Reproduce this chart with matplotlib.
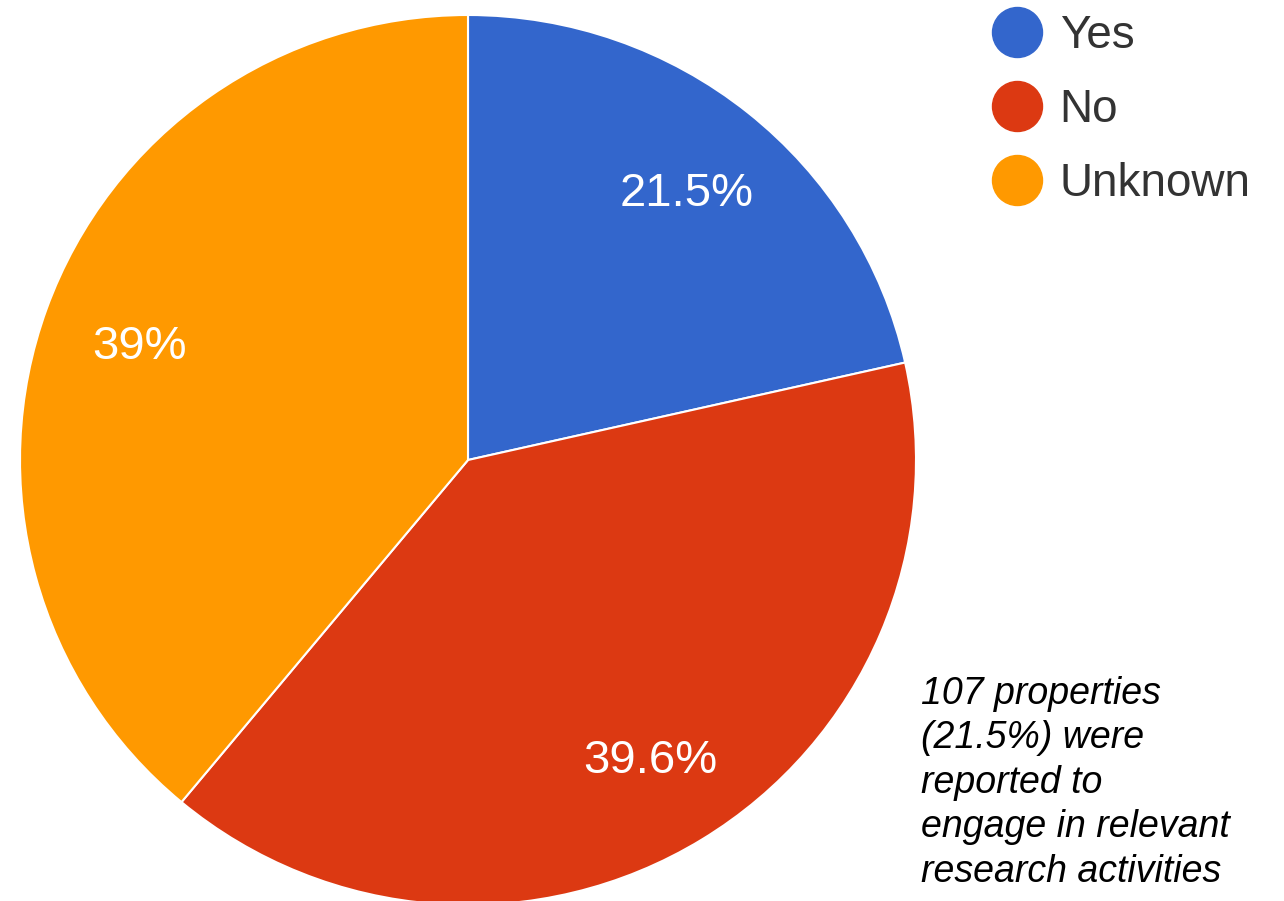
import matplotlib.pyplot as plt
from matplotlib.lines import Line2D

plt.rcParams['font.family'] = ['Liberation Sans', 'DejaVu Sans']

# survey answers (property counts)
categories = ['Yes', 'No', 'Unknown']
counts = [107, 197, 194]
colors = ['#3366CC', '#DC3912', '#FF9900']
note = '107 properties\n(21.5%) were\nreported to\nengage in relevant\nresearch activities'

W, H = 1284, 901
fig = plt.figure(figsize=(W / 100, H / 100), dpi=100)

# pie centre / radii in pixels (the source image is slightly stretched)
cx, cy, rx, ry = 468, 460, 448, 445
ax = fig.add_axes([(cx - rx) / W, (H - cy - ry) / H, 2 * rx / W, 2 * ry / H])


def fmt(p):
    s = '%.1f' % p
    if s.endswith('.0'):
        s = s[:-2]
    return s + '%'


wedges, texts, autotexts = ax.pie(counts, colors=colors, startangle=90,
                                  counterclock=False, autopct=fmt,
                                  pctdistance=0.78, radius=1,
                                  wedgeprops=dict(edgecolor='white', linewidth=1.5),
                                  textprops=dict(color='white', fontsize=34))
for t in autotexts:
    t.set_va('center_baseline')
ax.set_xlim(-1, 1)
ax.set_ylim(-1, 1)
ax.set_aspect('auto')
ax.axis('off')

handles = [Line2D([], [], marker='o', linestyle='', markersize=36,
                  markerfacecolor=c, markeredgecolor=c) for c in colors]
fig.legend(handles, categories, loc='upper left',
           bbox_to_anchor=(969 / W, 1 + 9 / H), frameon=False,
           fontsize=33, labelcolor='#333333', handlelength=1.1,
           handletextpad=0.38, labelspacing=0.66, borderpad=0)

fig.text(921 / W, 1 - 676 / H, note, fontsize=27, style='italic',
         color='black', ha='left', va='top', linespacing=1.3)

fig.savefig('out.png', dpi=100)
